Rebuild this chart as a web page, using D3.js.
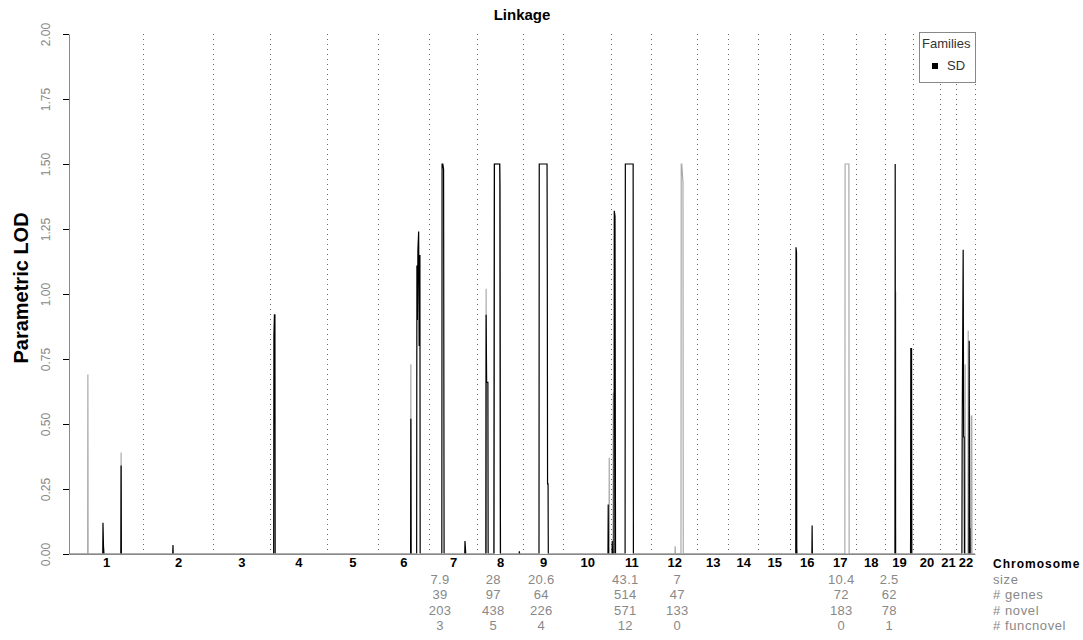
<!DOCTYPE html>
<html>
<head>
<meta charset="utf-8">
<script src="https://cdn.jsdelivr.net/npm/d3@7"></script>
<style>
  body { margin: 0; background: #fff; }
  svg { font-family: "Liberation Sans", Arial, sans-serif; }
</style>
</head>
<body>
<svg id="chart" width="1083" height="640"></svg>
<script>
// chromosome names and genetic lengths (cM)
const chromosomes = ["1","2","3","4","5","6","7","8","9","10","11","12","13","14","15","16","17","18","19","20","21","22"];
const chromLengths = [294, 278, 226, 226, 203, 203, 191, 183, 159, 191, 159, 183, 123, 119, 127, 131, 131, 115, 111, 107, 64, 75];

const yTicks = [0, 0.25, 0.5, 0.75, 1, 1.25, 1.5, 1.75, 2];

// LOD curves: [chromosome, cM, LOD]
const sdCurve = [
  [1,134,0],[1,135,0.12],[1,137,0.03],[1,139,0],
  [1,206,0],[1,207,0.34],[1,208,0],
  [2,118,0],[2,119,0.035],[2,120,0],
  [4,15,0],[4,16,0.84],[4,18,0.92],[4,20,0.92],[4,21,0],
  [6,130,0],[6,131,0.52],[6,132,0],
  [6,154,0],[6,155,1.11],[6,157,0.9],[6,159,1.17],[6,162,1.24],[6,164,0.8],[6,167,1.15],[6,168,0],
  [7,51,0],[7,52,1.5],[7,55,1.5],[7,58,1.48],[7,60,0],
  [7,142,0],[7,143,0.05],[7,145,0.02],[7,146,0],
  [8,35,0],[8,36,0.92],[8,38,0.66],[8,43,0.66],[8,44,0],
  [8,67,0],[8,68,0.75],[8,69,1.5],[8,90,1.5],[8,91,1.41],[8,93,0],
  [8,167,0],[8,168,0.01],[8,169,0],
  [9,63,0],[9,64,1.5],[9,95,1.5],[9,96,1.07],[9,97,0.27],[9,99,0.27],[9,100,0],
  [10,178,0],[10,179,0.19],[10,180,0],
  [11,3,0],[11,4,0.05],[11,5,0],
  [11,11,0],[11,12,1.32],[11,15,1.3],[11,17,0],
  [11,55,0],[11,56,1.5],[11,87,1.5],[11,88,0],
  [16,22,0],[16,23,1.18],[16,25,1.16],[16,26,0.02],[16,27,0],
  [16,86,0],[16,87,0.11],[16,88,0],
  [19,39,0],[19,40,1.5],[19,41,0],
  [19,101,0],[19,102,0.79],[19,105,0.79],[19,106,0],
  [22,23,0],[22,24,0.45],[22,28,1.17],[22,30,0.45],[22,32,0.45],[22,33,0],
  [22,51,0],[22,52,0.82],[22,54,0],[22,55,0.1],[22,56,0]
];
const grayCurve = [
  [1,74,0],[1,75,0.69],[1,76,0],
  [1,206,0],[1,207,0.39],[1,208,0],
  [6,130,0],[6,131,0.73],[6,132,0],
  [8,35,0],[8,36,1.02],[8,37,0],
  [8,67,0],[8,68,1.5],[8,90,1.5],[8,92,0],
  [10,182,0],[10,183,0.37],[10,184,0],
  [11,7,0],[11,8,0.62],[11,9,0],
  [12,94,0],[12,95,0.03],[12,96,0],
  [12,118,0],[12,119,1.5],[12,121,1.5],[12,126,1.43],[12,127,0],
  [17,86,0],[17,87,1.5],[17,102,1.5],[17,103,0],
  [19,41,0],[19,42,1.01],[19,43,0],
  [22,35,0],[22,36,0.73],[22,37,0],
  [22,47,0],[22,48,0.86],[22,50,0],
  [22,59,0],[22,60,0.53],[22,62,0.53],[22,63,0]
];

// table under the chart
const rowLabels = ["size", "# genes", "# novel", "# funcnovel"];
const annotChroms = [7, 8, 9, 11, 12, 17, 19];
const annotPos = [44, 64, 72, 56, 103, 72, 16];
const sizeVals = ["7.9", "28", "20.6", "43.1", "7", "10.4", "2.5"];
const geneVals = ["39", "97", "64", "514", "47", "72", "62"];
const novelVals = ["203", "438", "226", "571", "133", "183", "78"];
const funcVals = ["3", "5", "4", "12", "0", "0", "1"];

const svg = d3.select("#chart");
const margin = { top: 34, left: 69, right: 108, bottom: 86 };
const width = 1083, height = 640;

const starts = [0, ...d3.cumsum(chromLengths)].slice(0, chromLengths.length);
const total = d3.sum(chromLengths);
const genomePos = (c, cm) => starts[c - 1] + cm;

const x = d3.scaleLinear().domain([0, total]).range([margin.left, width - margin.right]);
const y = d3.scaleLinear().domain([0, 2]).range([height - margin.bottom, margin.top]);

// title
svg.append("text")
  .attr("x", (x.range()[0] + x.range()[1]) / 2)
  .attr("y", 20)
  .attr("text-anchor", "middle")
  .attr("font-size", 15)
  .attr("font-weight", "bold")
  .text("Linkage");

// chromosome boundaries (dotted)
const bounds = starts.slice(1).concat([total]);
svg.append("g")
  .selectAll("line")
  .data(bounds)
  .enter()
  .append("line")
  .attr("x1", d => Math.round(x(d)) + 0.5)
  .attr("x2", d => Math.round(x(d)) + 0.5)
  .attr("y1", y(2))
  .attr("y2", y(0) - 4)
  .attr("stroke", "#666")
  .attr("stroke-dasharray", "1,4");

// keep the zero part of the curves off the axis line
svg.append("clipPath")
  .attr("id", "plotClip")
  .append("rect")
  .attr("x", margin.left)
  .attr("y", 0)
  .attr("width", width)
  .attr("height", y(0) - 0.5);

// curves
const line = d3.line()
  .x(d => x(d.g))
  .y(d => y(d.lod));

const toPoints = curve => {
  const pts = curve.map(d => ({ g: genomePos(d[0], d[1]), lod: d[2] }));
  pts.sort((a, b) => a.g - b.g);
  return [{ g: 0, lod: 0 }, ...pts, { g: total, lod: 0 }];
};

const curves = svg.append("g").attr("clip-path", "url(#plotClip)");

curves.append("path")
  .datum(toPoints(grayCurve))
  .attr("d", line)
  .attr("fill", "none")
  .attr("stroke", "#aaa")
  .attr("stroke-width", 1.2);

curves.append("path")
  .datum(toPoints(sdCurve))
  .attr("d", line)
  .attr("fill", "none")
  .attr("stroke", "#000")
  .attr("stroke-width", 1.2);

// y axis
const yAxis = d3.axisLeft(y)
  .tickValues(yTicks)
  .tickFormat(d3.format(".2f"))
  .tickSize(6)
  .tickSizeOuter(0);

const yAxisGroup = svg.append("g")
  .attr("transform", `translate(${margin.left},0)`)
  .call(yAxis);
yAxisGroup.select(".domain").attr("stroke", "#888");
yAxisGroup.selectAll(".tick line").attr("stroke", "#000");
yAxisGroup.selectAll("text")
  .attr("x", null)
  .attr("dy", null)
  .attr("transform", "translate(-19,0) rotate(-90)")
  .attr("text-anchor", "middle")
  .attr("fill", "#888")
  .attr("font-size", 12)
  .attr("font-family", "Liberation Sans, Arial, sans-serif");

svg.append("text")
  .attr("transform", `translate(28,${(y(0) + y(2)) / 2 - 6}) rotate(-90)`)
  .attr("text-anchor", "middle")
  .attr("font-size", 20)
  .attr("font-weight", "bold")
  .text("Parametric LOD");

// x axis with chromosome names
const centers = chromLengths.map((len, i) => starts[i] + len / 2);
const xAxis = d3.axisBottom(x)
  .tickValues(centers)
  .tickFormat((d, i) => chromosomes[i])
  .tickSize(0)
  .tickSizeOuter(0)
  .tickPadding(4);

const xAxisGroup = svg.append("g")
  .attr("transform", `translate(0,${y(0)})`)
  .call(xAxis);
xAxisGroup.select(".domain").attr("stroke", "#888");
xAxisGroup.selectAll("text")
  .attr("font-size", 13)
  .attr("font-weight", "bold")
  .attr("fill", "#000")
  .attr("font-family", "Liberation Sans, Arial, sans-serif");

// table
const tableX = 993;
const rowY = [584, 599, 615, 630];
svg.append("text")
  .attr("x", tableX)
  .attr("y", 568)
  .attr("font-size", 12)
  .attr("font-weight", "bold")
  .attr("letter-spacing", 1)
  .text("Chromosome");

svg.append("g")
  .selectAll("text")
  .data(rowLabels)
  .enter()
  .append("text")
  .attr("x", tableX)
  .attr("y", (d, i) => rowY[i])
  .attr("font-size", 13)
  .attr("letter-spacing", 0.6)
  .attr("fill", "#888")
  .text(d => d);

const rows = [sizeVals, geneVals, novelVals, funcVals];
rows.forEach((vals, r) => {
  svg.append("g")
    .selectAll("text")
    .data(vals)
    .enter()
    .append("text")
    .attr("x", (d, i) => x(genomePos(annotChroms[i], annotPos[i])))
    .attr("y", rowY[r])
    .attr("text-anchor", "middle")
    .attr("font-size", 13)
    .attr("letter-spacing", 0.3)
    .attr("fill", "#888")
    .text(d => d);
});

// legend
const legend = svg.append("g").attr("transform", "translate(919,32)");
legend.append("rect")
  .attr("x", 0.5)
  .attr("y", 0.5)
  .attr("width", 56)
  .attr("height", 50)
  .attr("fill", "#fff")
  .attr("stroke", "#888");
legend.append("text")
  .attr("x", 3)
  .attr("y", 16)
  .attr("font-size", 13)
  .attr("fill", "#333")
  .text("Families");
legend.append("rect")
  .attr("x", 13)
  .attr("y", 31)
  .attr("width", 6)
  .attr("height", 6)
  .attr("fill", "#000");
legend.append("text")
  .attr("x", 28)
  .attr("y", 38)
  .attr("font-size", 13)
  .attr("fill", "#333")
  .text("SD");
</script>
</body>
</html>
